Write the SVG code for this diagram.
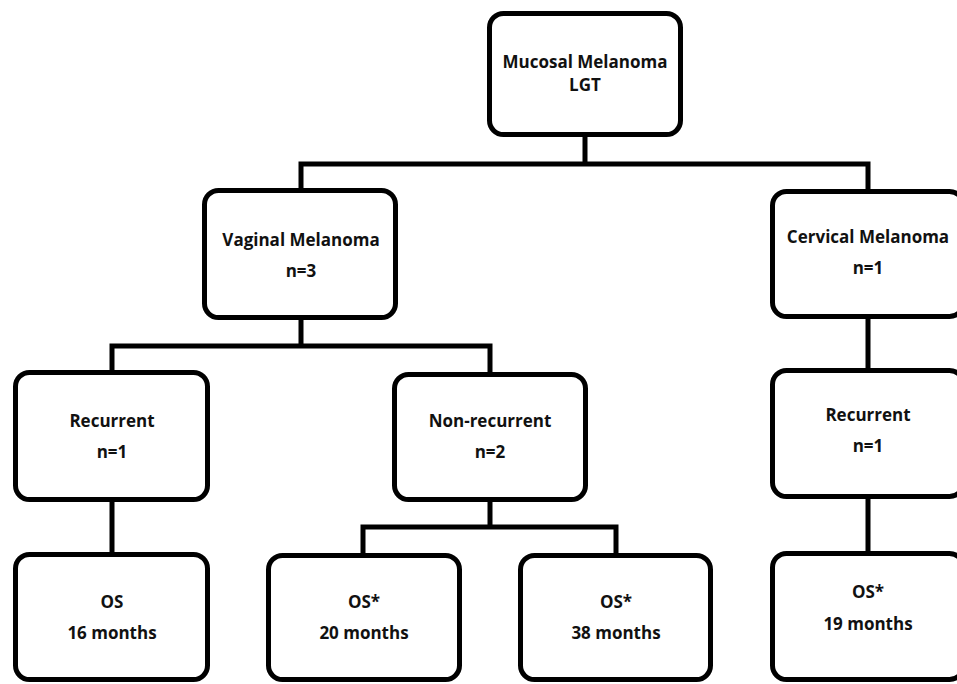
<svg xmlns="http://www.w3.org/2000/svg" width="957" height="684" viewBox="0 0 957 684">
<style>
.box{fill:#fff;stroke:#000;stroke-width:5}
.ln{fill:none;stroke:#000;stroke-width:5;stroke-linecap:square}
text{font-family:"Open Sans","Noto Sans","Liberation Sans",sans-serif;font-weight:bold;font-size:17px;fill:#111;text-anchor:middle}
</style>
<rect width="957" height="684" fill="#fff"/>
<g id="connectors">
<path class="ln" d="M585,137V164M301,164H868M301,164V189M868,164V189"/>
<path class="ln" d="M301,319V346M112,346H490M112,346V370M490,346V372M868,319V368"/>
<path class="ln" d="M112,501V552M490,501V527M363,527H616M363,527V553M616,527V553M868,499V551"/>
</g>
<g id="n_root"><rect class="box" x="489.5" y="13.5" width="191" height="121" rx="14"/><text x="585" y="68">Mucosal Melanoma</text><text x="585" y="91">LGT</text></g>
<g id="n_vag"><rect class="box" x="204.5" y="190.5" width="191" height="127" rx="14"/><text x="301" y="246">Vaginal Melanoma</text><text x="301" y="277">n=3</text></g>
<g id="n_cerv"><rect class="box" x="772.5" y="191.5" width="191" height="125" rx="14"/><text x="868" y="243">Cervical Melanoma</text><text x="868" y="274">n=1</text></g>
<g id="n_recL"><rect class="box" x="15.5" y="372.5" width="192" height="127" rx="14"/><text x="112" y="427">Recurrent</text><text x="112" y="458">n=1</text></g>
<g id="n_nonrec"><rect class="box" x="394.5" y="374.5" width="191" height="125" rx="14"/><text x="490" y="427">Non-recurrent</text><text x="490" y="458">n=2</text></g>
<g id="n_recR"><rect class="box" x="772.5" y="370.5" width="191" height="126" rx="14"/><text x="868" y="421">Recurrent</text><text x="868" y="452">n=1</text></g>
<g id="n_os16"><rect class="box" x="15.5" y="554.5" width="192" height="125" rx="14"/><text x="112" y="608">OS</text><text x="112" y="639">16 months</text></g>
<g id="n_os20"><rect class="box" x="268.5" y="555.5" width="191" height="124" rx="14"/><text x="364" y="608">OS*</text><text x="364" y="639">20 months</text></g>
<g id="n_os38"><rect class="box" x="520.5" y="555.5" width="190" height="124" rx="14"/><text x="616" y="608">OS*</text><text x="616" y="639">38 months</text></g>
<g id="n_os19"><rect class="box" x="772.5" y="553.5" width="191" height="126" rx="14"/><text x="868" y="598">OS*</text><text x="868" y="630">19 months</text></g>
</svg>
